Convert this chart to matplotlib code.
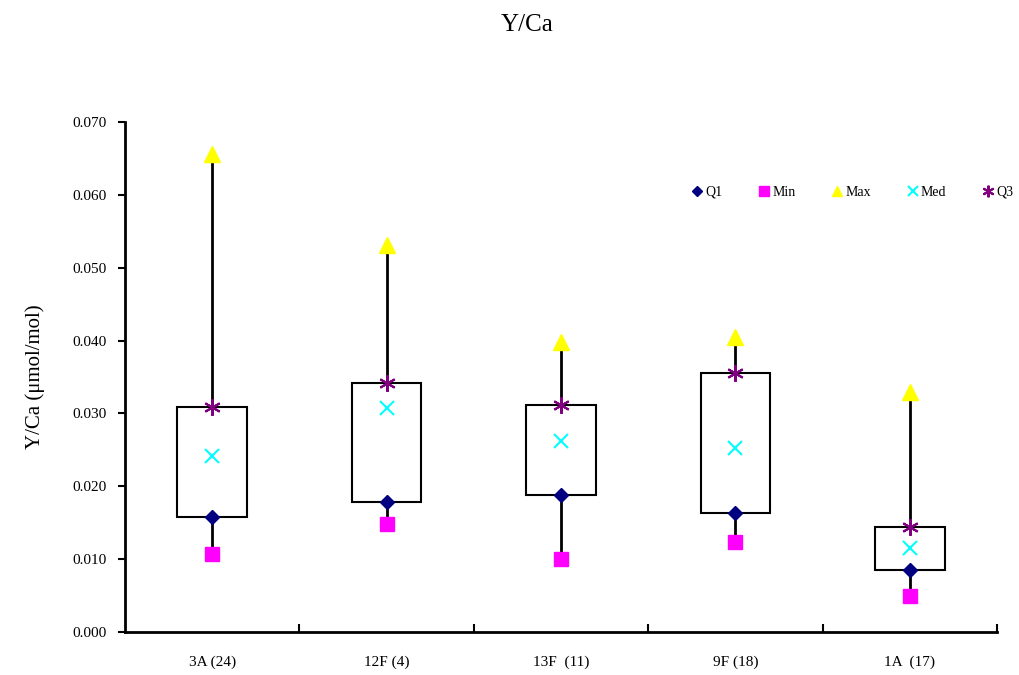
import numpy as np
import matplotlib.pyplot as plt

plt.rcParams['font.family'] = ['Liberation Serif', 'DejaVu Serif']

sites = ['3A (24)', '12F (4)', '13F  (11)', '9F (18)', '1A  (17)']
q1 = [0.0158, 0.0178, 0.0188, 0.0164, 0.0085]
vmin = [0.0107, 0.0148, 0.0100, 0.0124, 0.0050]
vmax = [0.0656, 0.0531, 0.0398, 0.0405, 0.0329]
med = [0.0241, 0.0307, 0.0262, 0.0253, 0.0115]
q3 = [0.0309, 0.0342, 0.0311, 0.0355, 0.0144]

x = np.arange(len(sites))

fig = plt.figure(figsize=(10.19, 6.75), dpi=100)
ax = fig.add_axes([125 / 1019, 1 - 632 / 675, 872 / 1019, 510 / 675])

# whiskers
ax.vlines(x, vmin, q1, color='black', lw=2, zorder=1)
ax.vlines(x, q3, vmax, color='black', lw=2, zorder=1)
# boxes
ax.bar(x, np.array(q3) - np.array(q1), bottom=q1, width=0.4,
       facecolor='white', edgecolor='black', lw=1.5, zorder=2)

ax.plot(x, q1, ls='none', marker='D', ms=7, color='#000080', label='Q1', zorder=3)
ax.plot(x, vmin, ls='none', marker='s', ms=10, color='#FF00FF', label='Min', zorder=3)
ax.plot(x, vmax, ls='none', marker='^', ms=11, color='#FFFF00', label='Max', zorder=3)
ax.plot(x, med, ls='none', marker='x', ms=10, mew=1.5, color='#00FFFF', label='Med', zorder=3)
ax.plot(x, q3, ls='none', marker=(6, 2, 0), ms=12, mew=1.5, color='#800080', label='Q3', zorder=3)

ax.set_xlim(-0.5, len(sites) - 0.5)
ax.set_ylim(0, 0.070)
ax.set_yticks(np.arange(0, 0.0701, 0.010))
ax.set_yticklabels([f'{v:.3f}' for v in np.arange(0, 0.0701, 0.010)], fontsize=11)
ax.set_xticks(x)
ax.set_xticklabels(sites, fontsize=11)
ax.tick_params(axis='x', which='major', length=0, pad=17)
ax.set_xticks(x + 0.5, minor=True)
ax.tick_params(axis='x', which='minor', direction='in', length=6, width=1.5)
ax.tick_params(axis='y', direction='out', length=5, width=1.5, pad=8)

for s in ['top', 'right']:
    ax.spines[s].set_visible(False)
for s in ['left', 'bottom']:
    ax.spines[s].set_linewidth(2)

ax.set_ylabel('Y/Ca (μmol/mol)', fontsize=15, labelpad=20)
fig.text(527 / 1019, 1 - 25 / 675, 'Y/Ca', ha='center', va='center', fontsize=18)

ax.legend(loc='center left', bbox_to_anchor=(680 / 1019, 1 - 192 / 675),
          bbox_transform=fig.transFigure, ncol=5, frameon=False, fontsize=10,
          handletextpad=0.1, columnspacing=2.5, markerscale=0.7, handlelength=1,
          borderpad=0.2)

fig.savefig('out.png', dpi=100)
